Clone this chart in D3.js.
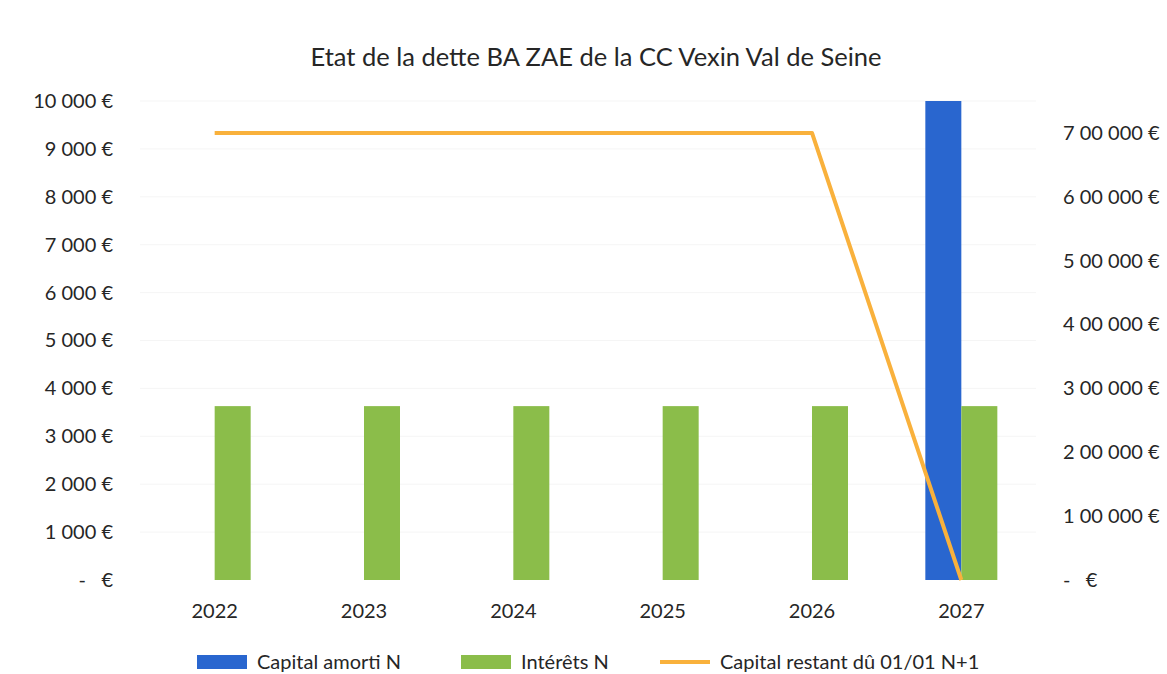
<!DOCTYPE html>
<html>
<head>
<meta charset="utf-8">
<script src="https://cdn.jsdelivr.net/npm/d3@7"></script>
<style>
    body { margin: 0; background: #fff; }
    text { font-family: Lato, "Noto Sans", sans-serif; fill: #262626; }
</style>
</head>
<body>
<div id="chart"></div>
<script>
// data
let years = ["2022", "2023", "2024", "2025", "2026", "2027"];
let capitalAmorti = [0, 0, 0, 0, 0, 10000];
let interets = [3630, 3630, 3630, 3630, 3630, 3630];
let capitalRestant = [700000, 700000, 700000, 700000, 700000, 0];

let leftTicks = [0, 1000, 2000, 3000, 4000, 5000, 6000, 7000, 8000, 9000, 10000];
let leftTickLabels = ["-   €", "1 000 €", "2 000 €", "3 000 €", "4 000 €", "5 000 €", "6 000 €", "7 000 €", "8 000 €", "9 000 €", "10 000 €"];
let rightTicks = [0, 100000, 200000, 300000, 400000, 500000, 600000, 700000];
let rightTickLabels = ["-   €", "1 00 000 €", "2 00 000 €", "3 00 000 €", "4 00 000 €", "5 00 000 €", "6 00 000 €", "7 00 000 €"];

let seriesNames = ["Capital amorti N", "Intérêts N", "Capital restant dû 01/01 N+1"];
let colors = {blue: "#2966CF", green: "#8BBD4A", orange: "#F9B13C"};

let width = 1167, height = 674;
let plot = {left: 140, right: 1036, top: 101, bottom: 580};

let svg = d3.select("#chart").append("svg")
    .attr("width", width)
    .attr("height", height);

// title
svg.append("text")
    .attr("x", 596)
    .attr("y", 66)
    .attr("text-anchor", "middle")
    .style("font-size", "25.5px")
    .text("Etat de la dette BA ZAE de la CC Vexin Val de Seine");

// scales
let x = d3.scaleBand().domain(years).range([plot.left, plot.right]);
let xSub = d3.scaleBand().domain(["amorti", "interets"]).range([0, 72]);
let subOffset = x.bandwidth() / 2 - 36;
let yLeft = d3.scaleLinear().domain([0, 10000]).range([plot.bottom, plot.top]);
let yRight = d3.scaleLinear().domain([0, 750000]).range([plot.bottom, plot.top]);

// faint gridlines
svg.append("g")
    .selectAll("line")
    .data(leftTicks.slice(1))
    .enter()
    .append("line")
    .attr("x1", plot.left)
    .attr("x2", plot.right)
    .attr("y1", d => yLeft(d))
    .attr("y2", d => yLeft(d))
    .attr("stroke", "#f5f5f5")
    .attr("stroke-width", 1);

// left axis
let leftAxis = svg.append("g")
    .attr("transform", `translate(${plot.left - 27}, 0)`)
    .call(d3.axisLeft(yLeft).tickValues(leftTicks).tickSize(0)
        .tickFormat((d, i) => leftTickLabels[i]));
leftAxis.select(".domain").remove();
leftAxis.selectAll("text")
    .attr("x", 0)
    .style("font-size", "20px")
    .style("white-space", "pre")
    .attr("fill", "#262626");

// right axis
let rightAxis = svg.append("g")
    .attr("transform", `translate(${plot.right + 27}, 0)`)
    .call(d3.axisRight(yRight).tickValues(rightTicks).tickSize(0)
        .tickFormat((d, i) => rightTickLabels[i]));
rightAxis.select(".domain").remove();
rightAxis.selectAll("text")
    .attr("x", 0)
    .style("font-size", "20px")
    .style("white-space", "pre")
    .attr("fill", "#262626");

// x axis
let xAxis = svg.append("g")
    .attr("transform", `translate(0, ${plot.bottom + 21})`)
    .call(d3.axisBottom(x).tickSize(0));
xAxis.select(".domain").remove();
xAxis.selectAll("text")
    .style("font-size", "20px")
    .attr("fill", "#262626");

// bars
let groups = svg.selectAll(".year")
    .data(years)
    .enter()
    .append("g")
    .attr("class", "year")
    .attr("transform", d => `translate(${x(d) + subOffset}, 0)`);

groups.append("rect")
    .attr("x", xSub("amorti"))
    .attr("width", xSub.bandwidth())
    .attr("y", (d, i) => yLeft(capitalAmorti[i]))
    .attr("height", (d, i) => plot.bottom - yLeft(capitalAmorti[i]))
    .attr("fill", colors.blue);

groups.append("rect")
    .attr("x", xSub("interets"))
    .attr("width", xSub.bandwidth())
    .attr("y", (d, i) => yLeft(interets[i]))
    .attr("height", (d, i) => plot.bottom - yLeft(interets[i]))
    .attr("fill", colors.green);

// line
let line = d3.line()
    .x((d, i) => x(years[i]) + x.bandwidth() / 2)
    .y(d => yRight(d));

svg.append("path")
    .datum(capitalRestant)
    .attr("d", line)
    .attr("fill", "none")
    .attr("stroke", colors.orange)
    .attr("stroke-width", 4)
    .attr("stroke-linejoin", "round");

// legend
let legendItems = [
    {name: seriesNames[0], color: colors.blue, type: "rect", x: 197},
    {name: seriesNames[1], color: colors.green, type: "rect", x: 461},
    {name: seriesNames[2], color: colors.orange, type: "line", x: 660}
];
let legend = svg.selectAll(".legend")
    .data(legendItems)
    .enter()
    .append("g")
    .attr("class", "legend")
    .attr("transform", d => `translate(${d.x}, 662)`);

legend.filter(d => d.type === "rect").append("rect")
    .attr("x", 0)
    .attr("y", -7)
    .attr("width", 50)
    .attr("height", 14)
    .attr("fill", d => d.color);

legend.filter(d => d.type === "line").append("line")
    .attr("x1", 0)
    .attr("x2", 50)
    .attr("y1", 0)
    .attr("y2", 0)
    .attr("stroke", d => d.color)
    .attr("stroke-width", 4);

legend.append("text")
    .attr("x", 60)
    .attr("y", 0)
    .attr("dy", "0.35em")
    .style("font-size", "20px")
    .text(d => d.name);
</script>
</body>
</html>
